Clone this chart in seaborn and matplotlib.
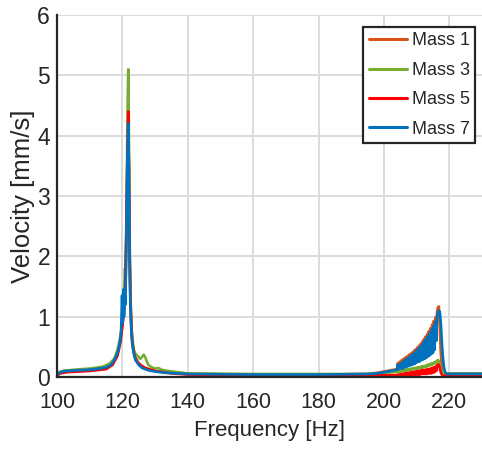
import numpy as np
import pandas as pd
import matplotlib
matplotlib.use("Agg")
import matplotlib.pyplot as plt
import seaborn as sns

# ---------------- data ----------------
labels = ["Mass 1", "Mass 3", "Mass 5", "Mass 7"]
colors = ["#D95319", "#77AC30", "#FF0000", "#0072BD"]

xticks = [100, 120, 140, 160, 180, 200, 220]
yticks = [0, 1, 2, 3, 4, 5, 6]

# common frequency grid of the noisy band near the second resonance
band_freq = [204.00, 204.25, 204.50, 204.75, 205.00, 205.25, 205.50, 205.75,
             206.00, 206.25, 206.50, 206.75, 207.00, 207.25, 207.50, 207.75,
             208.00, 208.25, 208.50, 208.75, 209.00, 209.25, 209.50, 209.75,
             210.00, 210.25, 210.50, 210.75, 211.00, 211.25, 211.50, 211.75,
             212.00, 212.25, 212.50, 212.75, 213.00, 213.25, 213.50, 213.75,
             214.00, 214.25, 214.50, 214.75, 215.00, 215.25, 215.50, 215.75,
             216.00, 216.25, 216.50]

# Mass 1
m1_pre_f = [100, 100.5, 102, 106, 110, 114, 116, 117.5, 118.5, 119.3, 120, 120.6,
            121.0, 121.3, 121.6, 121.8, 122.0, 122.2, 122.4, 122.7, 123.0, 123.5,
            124.0, 125, 126, 128, 130, 135, 140, 160, 180, 195, 198, 200, 202, 203]
m1_pre_v = [0.03, 0.07, 0.10, 0.11, 0.13, 0.15, 0.19, 0.27, 0.40, 0.60, 0.85, 1.20,
            1.60, 2.60, 3.60, 4.10, 3.50, 2.20, 1.40, 0.90, 0.60, 0.42,
            0.32, 0.23, 0.17, 0.12, 0.10, 0.07, 0.05, 0.04, 0.04, 0.05, 0.07, 0.09, 0.11, 0.12]
m1_band_v = [0.13, 0.23, 0.14, 0.25, 0.15, 0.27, 0.16, 0.29, 0.17, 0.31, 0.18, 0.33,
             0.19, 0.35, 0.20, 0.37, 0.21, 0.39, 0.22, 0.41, 0.23, 0.44, 0.24, 0.46,
             0.26, 0.49, 0.27, 0.52, 0.28, 0.55, 0.30, 0.59, 0.31, 0.63, 0.33, 0.67,
             0.35, 0.71, 0.37, 0.76, 0.40, 0.81, 0.43, 0.87, 0.47, 0.93, 0.52, 0.99,
             0.70, 1.08, 1.15]
m1_post_f = [216.8, 217.1, 217.4, 217.7, 218.0, 218.5, 230]
m1_post_v = [1.17, 0.80, 0.40, 0.15, 0.07, 0.05, 0.05]

# Mass 3
m3_pre_f = [100, 100.5, 102, 105, 110, 114, 116, 117.5, 118.5, 119.3, 120, 120.5,
            120.8, 121.0, 121.3, 121.6, 121.8, 122.0, 122.2, 122.4, 122.7, 123.0,
            123.5, 124.0, 124.5, 125.0, 125.5, 126.0, 126.5, 127.0, 127.5, 128.0,
            129, 130, 131, 132, 134, 137, 140, 160, 180, 195, 200, 203]
m3_pre_v = [0.04, 0.08, 0.10, 0.12, 0.14, 0.17, 0.22, 0.30, 0.45, 0.65, 0.90, 1.40,
            1.80, 1.50, 2.80, 4.50, 5.10, 4.00, 2.50, 1.50, 0.95, 0.65,
            0.45, 0.38, 0.36, 0.33, 0.30, 0.33, 0.37, 0.33, 0.25, 0.20,
            0.16, 0.14, 0.15, 0.12, 0.10, 0.08, 0.06, 0.05, 0.05, 0.05, 0.07, 0.08]
m3_band_v = [0.08, 0.10, 0.08, 0.10, 0.09, 0.11, 0.09, 0.11, 0.10, 0.12, 0.10, 0.12,
             0.11, 0.13, 0.11, 0.13, 0.12, 0.14, 0.12, 0.14, 0.13, 0.15, 0.13, 0.15,
             0.14, 0.16, 0.14, 0.16, 0.15, 0.17, 0.15, 0.18, 0.16, 0.18, 0.17, 0.19,
             0.17, 0.20, 0.18, 0.21, 0.19, 0.22, 0.20, 0.23, 0.21, 0.24, 0.22, 0.25,
             0.24, 0.27, 0.28]
m3_post_f = [216.8, 217.1, 217.5, 218.0, 219.0, 230]
m3_post_v = [0.27, 0.20, 0.11, 0.07, 0.06, 0.06]

# Mass 5
m5_pre_f = [100, 101, 103, 110, 115, 117, 118.5, 119.5, 120.3, 120.8, 121.2, 121.5,
            121.8, 122.0, 122.2, 122.5, 122.8, 123.2, 123.8, 124.5, 125.5, 127, 130,
            135, 140, 160, 195, 200, 202, 203]
m5_pre_v = [0.02, 0.06, 0.08, 0.10, 0.13, 0.20, 0.35, 0.60, 1.00, 1.30, 2.50, 3.60,
            4.40, 3.50, 2.10, 1.20, 0.75, 0.50, 0.33, 0.25, 0.20, 0.15, 0.10,
            0.06, 0.04, 0.03, 0.03, 0.03, 0.03, 0.03]
m5_band_v = [0.02, 0.04, 0.02, 0.04, 0.02, 0.05, 0.02, 0.05, 0.03, 0.06, 0.03, 0.06,
             0.03, 0.07, 0.03, 0.07, 0.03, 0.08, 0.03, 0.08, 0.04, 0.09, 0.04, 0.09,
             0.04, 0.10, 0.04, 0.10, 0.04, 0.11, 0.05, 0.11, 0.05, 0.12, 0.05, 0.12,
             0.05, 0.13, 0.06, 0.13, 0.06, 0.14, 0.06, 0.15, 0.07, 0.16, 0.08, 0.17,
             0.10, 0.19, 0.21]
m5_post_f = [216.8, 217.1, 217.5, 218.0, 230]
m5_post_v = [0.20, 0.14, 0.06, 0.02, 0.02]

# Mass 7
m7_pre_f = [100, 100.5, 101.5, 103, 106, 110, 113, 115, 116.5, 117.5, 118.5, 119.2,
            119.6, 119.9, 120.1, 120.3, 120.5, 120.7, 120.9, 121.2, 121.5, 121.8,
            122.0, 122.2, 122.4, 122.7, 123.0, 123.5, 124.0, 125, 126, 128, 130,
            133, 137, 140, 160, 180, 195, 198, 200, 202, 203]
m7_pre_v = [0.02, 0.06, 0.09, 0.10, 0.11, 0.12, 0.14, 0.16, 0.20, 0.28, 0.40, 0.55,
            0.75, 1.35, 0.90, 1.45, 1.00, 1.40, 1.20, 2.20, 3.50, 4.20,
            3.40, 2.00, 1.30, 0.80, 0.55, 0.38, 0.28, 0.20, 0.15, 0.11, 0.09,
            0.07, 0.06, 0.05, 0.04, 0.04, 0.05, 0.06, 0.08, 0.10, 0.11]
m7_band_v = [0.12, 0.20, 0.13, 0.21, 0.14, 0.23, 0.14, 0.25, 0.15, 0.27, 0.16, 0.29,
             0.17, 0.31, 0.18, 0.33, 0.19, 0.35, 0.20, 0.37, 0.21, 0.40, 0.22, 0.42,
             0.24, 0.45, 0.25, 0.48, 0.26, 0.51, 0.28, 0.54, 0.29, 0.58, 0.30, 0.62,
             0.32, 0.66, 0.34, 0.70, 0.36, 0.74, 0.38, 0.80, 0.40, 0.85, 0.45, 0.92,
             0.60, 1.00, 1.06]
m7_post_f = [216.8, 217.1, 217.4, 217.7, 218.0, 218.4, 218.8, 219.3, 222, 230]
m7_post_v = [1.10, 1.08, 0.90, 0.60, 0.35, 0.15, 0.07, 0.05, 0.05, 0.05]

series = [
    (m1_pre_f, m1_pre_v, m1_band_v, m1_post_f, m1_post_v),
    (m3_pre_f, m3_pre_v, m3_band_v, m3_post_f, m3_post_v),
    (m5_pre_f, m5_pre_v, m5_band_v, m5_post_f, m5_post_v),
    (m7_pre_f, m7_pre_v, m7_band_v, m7_post_f, m7_post_v),
]

# ---------------- style ----------------
sns.set_style("white")
plt.rcParams["font.family"] = ["Liberation Sans", "DejaVu Sans"]
plt.rcParams["font.size"] = 12

fig = plt.figure(figsize=(4.82, 4.51), dpi=100)
ax = fig.add_axes([57 / 482, 1 - 377 / 451, 425 / 482, 362 / 451])

for (pf, pv, bv, qf, qv), lab, col in zip(series, labels, colors):
    f = list(pf) + list(band_freq) + list(qf)
    v = list(pv) + list(bv) + list(qv)
    df = pd.DataFrame({"Frequency": f, "Velocity": v})
    sns.lineplot(data=df, x="Frequency", y="Velocity", color=col, label=lab,
                 lw=1.9, sort=False, estimator=None, ax=ax)

ax.set_xlim(100, 230)
ax.set_ylim(0, 6)
ax.set_xticks(xticks)
ax.set_yticks(yticks)
ax.grid(True, color="#DCDCDC", lw=1.4)
ax.set_axisbelow(True)
for s in ["top", "right"]:
    ax.spines[s].set_visible(False)
for s in ["left", "bottom"]:
    ax.spines[s].set_color("#262626")
    ax.spines[s].set_linewidth(1.6)
ax.tick_params(direction="in", length=4, width=1.2, colors="#262626",
               labelcolor="#262626")
ax.tick_params(axis="x", labelsize=15.5, pad=11)
ax.tick_params(axis="y", labelsize=16.5, pad=5)
ax.set_xlabel("Frequency [Hz]", fontsize=16, color="#262626", labelpad=5)
ax.set_ylabel("Velocity [mm/s]", fontsize=18.5, color="#262626", labelpad=2)

leg = ax.legend(loc="upper right", bbox_to_anchor=(0.9835, 0.967), borderaxespad=0,
                fancybox=False, framealpha=1, edgecolor="#262626",
                handlelength=2.1, handletextpad=0.28, labelspacing=0.69,
                borderpad=0.3, fontsize=13)
leg.get_frame().set_linewidth(1.6)
for line in leg.get_lines():
    line.set_linewidth(2.2)

fig.savefig("out.png", dpi=100)
